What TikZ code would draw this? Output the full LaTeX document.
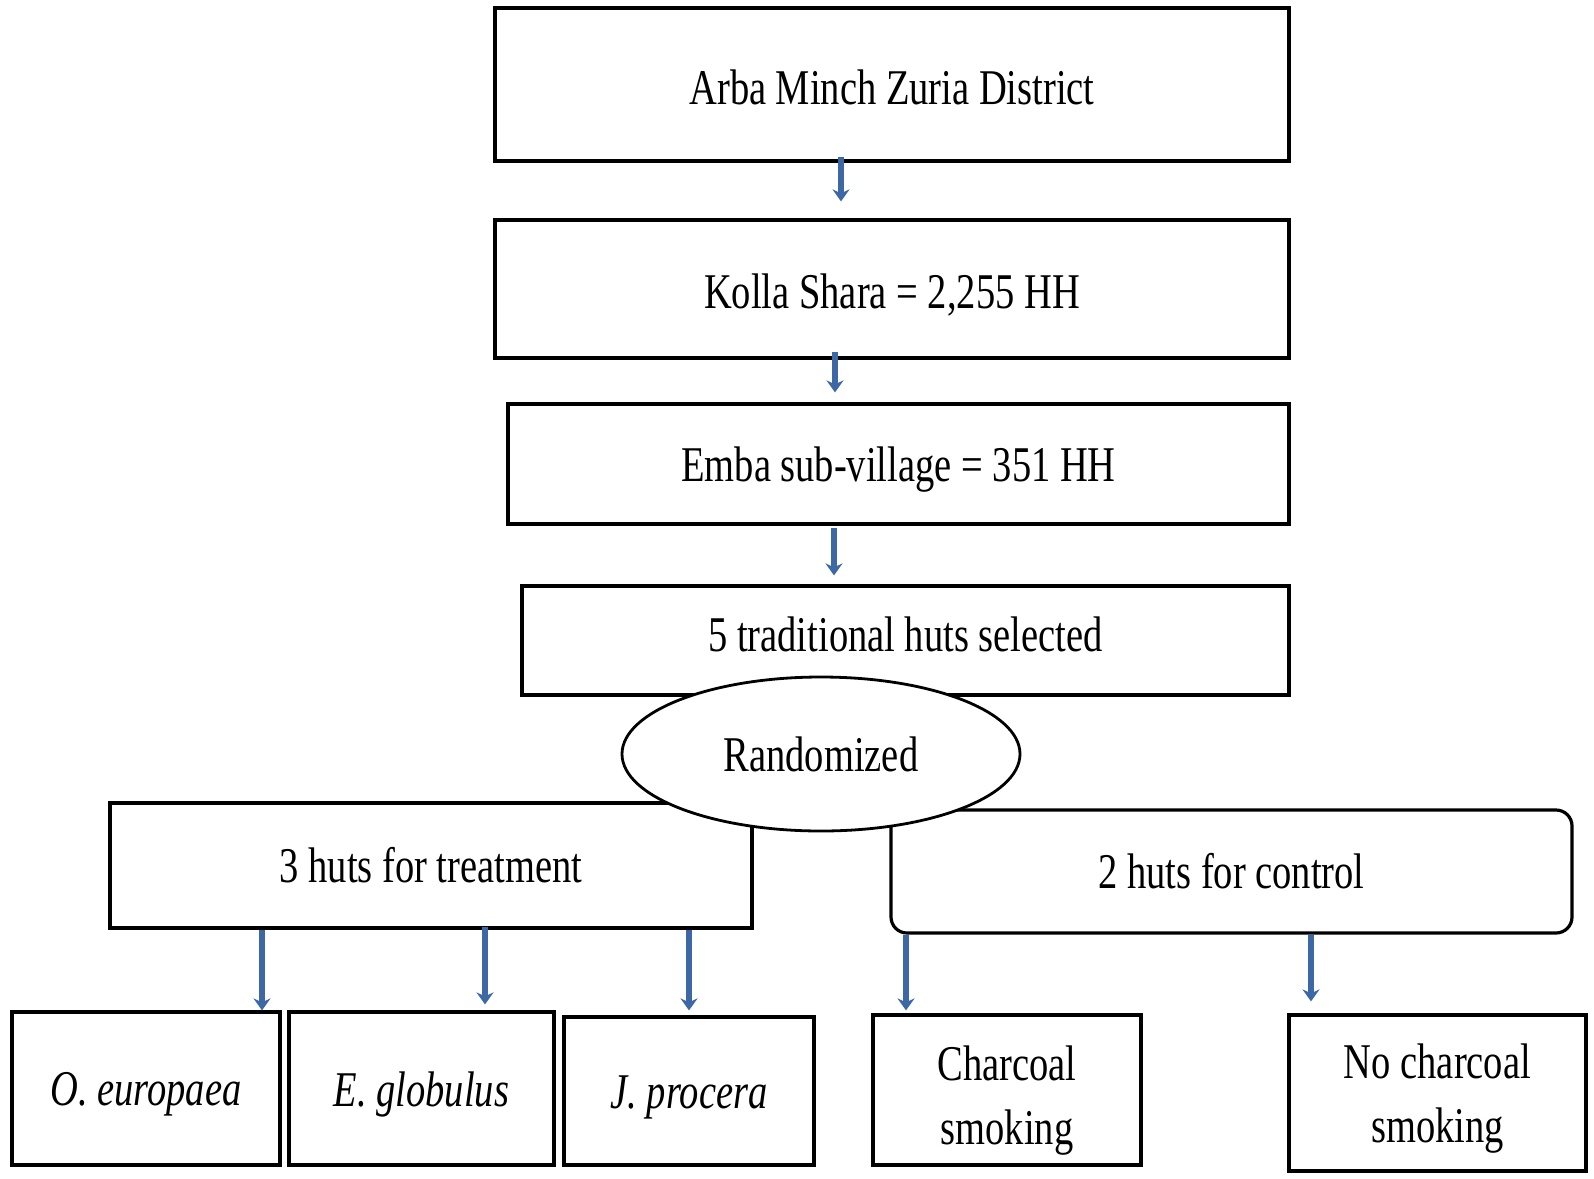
\documentclass[tikz,border=0pt]{standalone}
\usepackage{fontspec}
\setmainfont[FakeStretch=0.77]{Liberation Serif}
\usetikzlibrary{shapes.geometric,arrows.meta}
\definecolor{arrblue}{RGB}{61,104,165}
\tikzset{
  box/.style={draw=black, line width=1.6pt, fill=white, inner sep=0pt, align=center,
    font=\fontsize{25}{32}\selectfont},
  arr/.style={draw=arrblue, line width=2.6pt, -{Stealth[length=6pt,width=8.5pt]}},
}
\newcommand\bx[7][]{\node[box,#1,minimum width={(#5-#3)*0.5pt},minimum height={(#6-#4)*0.5pt}] (#2) at ({(#3+#5)/2},{(#4+#6)/2}) {#7};}
\newcommand\sh[2]{\raisebox{#1}[\height][\depth]{#2}}
\newcommand\two[2]{\begin{tabular}{@{}c@{}}#1\\#2\end{tabular}}
\begin{document}
\begin{tikzpicture}[x=0.5pt,y=-0.5pt]
\useasboundingbox[fill=white] (0,0) rectangle (1594,1178);
\bx{b1}{495}{8}{1289}{161}{\sh{-1.5pt}{Arba Minch Zuria District}}
\bx{b2}{495}{220}{1289}{358}{\sh{-3pt}{Kolla Shara = 2,255 HH}}
\bx{b3}{508}{404}{1289}{524}{\sh{-3pt}{Emba sub-village = 351 HH}}
\bx{b4}{522}{586}{1289}{695}{\sh{3pt}{5 traditional huts selected}}
\bx{treat}{110}{803}{752}{928}{3 huts for treatment}
\bx[rounded corners=8pt]{ctrl}{891}{810}{1572}{933}{2 huts for control}
\bx{oe}{12}{1012}{280}{1165}{\sh{-3pt}{\itshape O. europaea}}
\bx{eg}{289}{1012}{554}{1165}{\sh{-3pt}{\itshape E. globulus}}
\bx{jp}{564}{1017}{814}{1165}{\sh{-3pt}{\itshape J. procera}}
\bx{ch}{873}{1015}{1141}{1165}{\sh{-5pt}{\two{Charcoal}{smoking}}}
\bx{nc}{1289}{1015}{1586}{1171}{\sh{-2.5pt}{\two{No charcoal}{smoking}}}
\node[draw=black, line width=1.4pt, fill=white, ellipse, inner sep=0pt,
  minimum width=199pt, minimum height=77pt, font=\fontsize{25}{32}\selectfont] (rand) at (821,754) {Randomized};
% arrows
\draw[arr] ([xshift=-25.5pt,yshift=3pt]b1.south) -- ([xshift=-25.5pt,yshift=8.5pt]b2.north);
\draw[arr] ([xshift=-28.5pt,yshift=4pt]b2.south) -- ([xshift=-31.75pt,yshift=5pt]b3.north);
\draw[arr] ([xshift=-32.25pt,yshift=-1pt]b3.south) -- ([xshift=-35.75pt,yshift=4.5pt]b4.north);
\draw[arr] ([xshift=-84.5pt]treat.south) -- ([xshift=58pt]oe.north);
\draw[arr] ([xshift=27pt,yshift=1.5pt]treat.south) -- ([xshift=31.75pt,yshift=3pt]eg.north);
\draw[arr] ([xshift=129pt]treat.south) -- ([yshift=2.5pt]jp.north);
\draw[arr] ([xshift=-162.75pt]ctrl.south) -- ([xshift=-50.5pt,yshift=1.5pt]ch.north);
\draw[arr] ([xshift=39.75pt]ctrl.south) -- ([xshift=-63.25pt,yshift=6pt]nc.north);
\end{tikzpicture}
\end{document}
